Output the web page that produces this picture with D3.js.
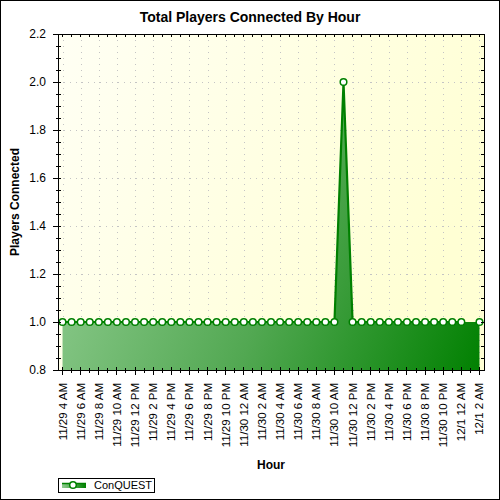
<!DOCTYPE html>
<html lang="en">
  <head>
    <meta charset="UTF-8" />
    <title>Total Players Connected By Hour</title>
    <script src="https://d3js.org/d3.v7.min.js"></script>
    <style>
      body { margin: 0; background: #fff; }
      text { font-family: "Liberation Sans", Arial, sans-serif; }
    </style>
  </head>
  <body>
    <svg id="chart" width="500" height="500"></svg>
    <script>
      // one entry per hour, 11/29 4 AM .. 12/1 2 AM
      const hours = [
        "11/29 4 AM", "11/29 5 AM", "11/29 6 AM", "11/29 7 AM", "11/29 8 AM", "11/29 9 AM",
        "11/29 10 AM", "11/29 11 AM", "11/29 12 PM", "11/29 1 PM", "11/29 2 PM", "11/29 3 PM",
        "11/29 4 PM", "11/29 5 PM", "11/29 6 PM", "11/29 7 PM", "11/29 8 PM", "11/29 9 PM",
        "11/29 10 PM", "11/29 11 PM",
        "11/30 12 AM", "11/30 1 AM", "11/30 2 AM", "11/30 3 AM", "11/30 4 AM", "11/30 5 AM",
        "11/30 6 AM", "11/30 7 AM", "11/30 8 AM", "11/30 9 AM", "11/30 10 AM", "11/30 11 AM",
        "11/30 12 PM", "11/30 1 PM", "11/30 2 PM", "11/30 3 PM", "11/30 4 PM", "11/30 5 PM",
        "11/30 6 PM", "11/30 7 PM", "11/30 8 PM", "11/30 9 PM", "11/30 10 PM", "11/30 11 PM",
        "12/1 12 AM", "12/1 1 AM", "12/1 2 AM"
      ];
      // players connected (null = no sample that hour)
      const players = [
        1, 1, 1, 1, 1, 1, 1, 1, 1, 1, 1, 1, 1, 1, 1, 1, 1, 1, 1, 1,
        1, 1, 1, 1, 1, 1, 1, 1, 1, 1, 1, 2, 1, 1, 1, 1, 1, 1, 1, 1, 1, 1, 1, 1,
        1, null, 1
      ];
      // labelled hours (every 2 hours)
      const tickHours = hours.filter((h, i) => i % 2 === 0);
      const yTicks = [0.8, 1.0, 1.2, 1.4, 1.6, 1.8, 2.0, 2.2];
      const seriesName = "ConQUEST";

      const pLeft = 58, pRight = 484, pTop = 34, pBottom = 370;
      const svg = d3.select("#chart");
      const defs = svg.append("defs");

      const bgGrad = defs.append("linearGradient").attr("id", "bgGrad")
        .attr("x1", "0").attr("y1", "0").attr("x2", "1").attr("y2", "0.4");
      bgGrad.append("stop").attr("offset", "0").attr("stop-color", "#fffff4");
      bgGrad.append("stop").attr("offset", "1").attr("stop-color", "#ffffd4");

      const areaGrad = defs.append("linearGradient").attr("id", "areaGrad")
        .attr("gradientUnits", "userSpaceOnUse")
        .attr("x1", pLeft).attr("y1", 200).attr("x2", pRight).attr("y2", pBottom);
      areaGrad.append("stop").attr("offset", "0").attr("stop-color", "#90cc90");
      areaGrad.append("stop").attr("offset", "0.5").attr("stop-color", "#52a852");
      areaGrad.append("stop").attr("offset", "1").attr("stop-color", "#008000");

      const legGrad = defs.append("linearGradient").attr("id", "legGrad");
      legGrad.append("stop").attr("offset", "0").attr("stop-color", "#90cc90");
      legGrad.append("stop").attr("offset", "1").attr("stop-color", "#008000");

      // outer frame
      svg.append("rect").attr("x", 0.5).attr("y", 0.5).attr("width", 499).attr("height", 499)
        .attr("fill", "#fff").attr("stroke", "#000");

      svg.append("rect").attr("x", pLeft).attr("y", pTop)
        .attr("width", pRight - pLeft).attr("height", pBottom - pTop)
        .attr("fill", "url(#bgGrad)");

      const x = d3.scalePoint().domain(hours).range([pLeft, pRight]).padding(0.5);
      const y = d3.scaleLinear().domain([0.8, 2.2]).range([pBottom, pTop]);

      // dotted grid
      const grid = svg.append("g").attr("stroke", "#c4c4c4")
        .attr("stroke-dasharray", "1,5");
      grid.selectAll(".gy").data(yTicks.slice(1, -1)).join("line")
        .attr("x1", pLeft).attr("x2", pRight)
        .attr("y1", (d) => y(d) + 0.5).attr("y2", (d) => y(d) + 0.5);
      grid.selectAll(".gx").data(tickHours).join("line")
        .attr("x1", (d) => Math.round(x(d)) + 0.5).attr("x2", (d) => Math.round(x(d)) + 0.5)
        .attr("y1", pTop).attr("y2", pBottom);

      const data = hours.map((h, i) => ({ h: h, v: players[i] }));
      const known = data.filter((d) => d.v !== null);

      const area = d3.area().x((d) => x(d.h)).y0(pBottom).y1((d) => y(d.v));
      svg.append("path").datum(known).attr("d", area).attr("fill", "url(#areaGrad)");

      const line = d3.line().defined((d) => d.v !== null)
        .x((d) => x(d.h)).y((d) => y(d.v));
      svg.append("path").datum(data).attr("d", line)
        .attr("fill", "none").attr("stroke", "#008000").attr("stroke-width", 2.2);

      svg.append("g").selectAll("circle").data(known).join("circle")
        .attr("cx", (d) => x(d.h)).attr("cy", (d) => y(d.v)).attr("r", 3.3)
        .attr("fill", "#fff").attr("stroke", "#008000").attr("stroke-width", 1.5);

      // axes
      const minorY = d3.range(0.8, 2.2001, 0.05);
      const ax = svg.append("g").attr("stroke", "#000").attr("shape-rendering", "crispEdges");
      ax.append("rect").attr("x", pLeft).attr("y", pTop)
        .attr("width", pRight - pLeft).attr("height", pBottom - pTop)
        .attr("fill", "none");
      ax.selectAll(".my").data(minorY).join("line")
        .attr("x1", pLeft - 2).attr("x2", pLeft + 3)
        .attr("y1", (d) => y(d)).attr("y2", (d) => y(d));
      ax.selectAll(".My").data(yTicks).join("line")
        .attr("x1", pLeft - 5).attr("x2", pLeft)
        .attr("y1", (d) => y(d)).attr("y2", (d) => y(d));
      ax.selectAll(".ry").data(minorY).join("line")
        .attr("x1", pRight - 3).attr("x2", pRight)
        .attr("y1", (d) => y(d)).attr("y2", (d) => y(d));
      ax.selectAll(".mx").data(hours).join("line")
        .attr("x1", (d) => x(d)).attr("x2", (d) => x(d))
        .attr("y1", pBottom - 2).attr("y2", pBottom + 3);
      ax.selectAll(".Mx").data(tickHours).join("line")
        .attr("x1", (d) => x(d)).attr("x2", (d) => x(d))
        .attr("y1", pBottom - 3).attr("y2", pBottom + 5);
      ax.selectAll(".tx").data(hours).join("line")
        .attr("x1", (d) => x(d)).attr("x2", (d) => x(d))
        .attr("y1", pTop).attr("y2", pTop + 3);

      svg.append("g").selectAll("text").data(yTicks).join("text")
        .attr("x", pLeft - 12).attr("y", (d) => y(d)).attr("dy", "0.35em")
        .attr("text-anchor", "end").attr("font-size", 12)
        .text((d) => d.toFixed(1));

      svg.append("g").selectAll("text").data(tickHours).join("text")
        .attr("transform", (d) => `translate(${x(d)},${pBottom + 13}) rotate(-90)`)
        .attr("dy", "0.35em").attr("text-anchor", "end").attr("font-size", 11.5)
        .text((d) => d);

      // titles
      svg.append("text").attr("x", 250).attr("y", 22).attr("text-anchor", "middle")
        .attr("font-size", 14).attr("font-weight", "bold")
        .text("Total Players Connected By Hour");
      svg.append("text").attr("transform", `translate(19,${(pTop + pBottom) / 2}) rotate(-90)`)
        .attr("text-anchor", "middle").attr("font-size", 12).attr("font-weight", "bold")
        .text("Players Connected");
      svg.append("text").attr("x", (pLeft + pRight) / 2).attr("y", 469).attr("text-anchor", "middle")
        .attr("font-size", 12).attr("font-weight", "bold").text("Hour");

      // legend
      const leg = svg.append("g");
      leg.append("rect").attr("x", 58.5).attr("y", 478.5).attr("width", 96).attr("height", 14)
        .attr("fill", "#fff").attr("stroke", "#000");
      leg.append("rect").attr("x", 62).attr("y", 483).attr("width", 24).attr("height", 5)
        .attr("fill", "url(#legGrad)");
      leg.append("line").attr("x1", 62).attr("x2", 86).attr("y1", 483.5).attr("y2", 483.5)
        .attr("stroke", "#008000").attr("stroke-width", 1.5);
      leg.append("circle").attr("cx", 73).attr("cy", 485).attr("r", 3.3)
        .attr("fill", "#fff").attr("stroke", "#008000").attr("stroke-width", 1.5);
      leg.append("text").attr("x", 94).attr("y", 485.5).attr("dy", "0.35em")
        .attr("font-size", 11).text(seriesName);
    </script>
  </body>
</html>
